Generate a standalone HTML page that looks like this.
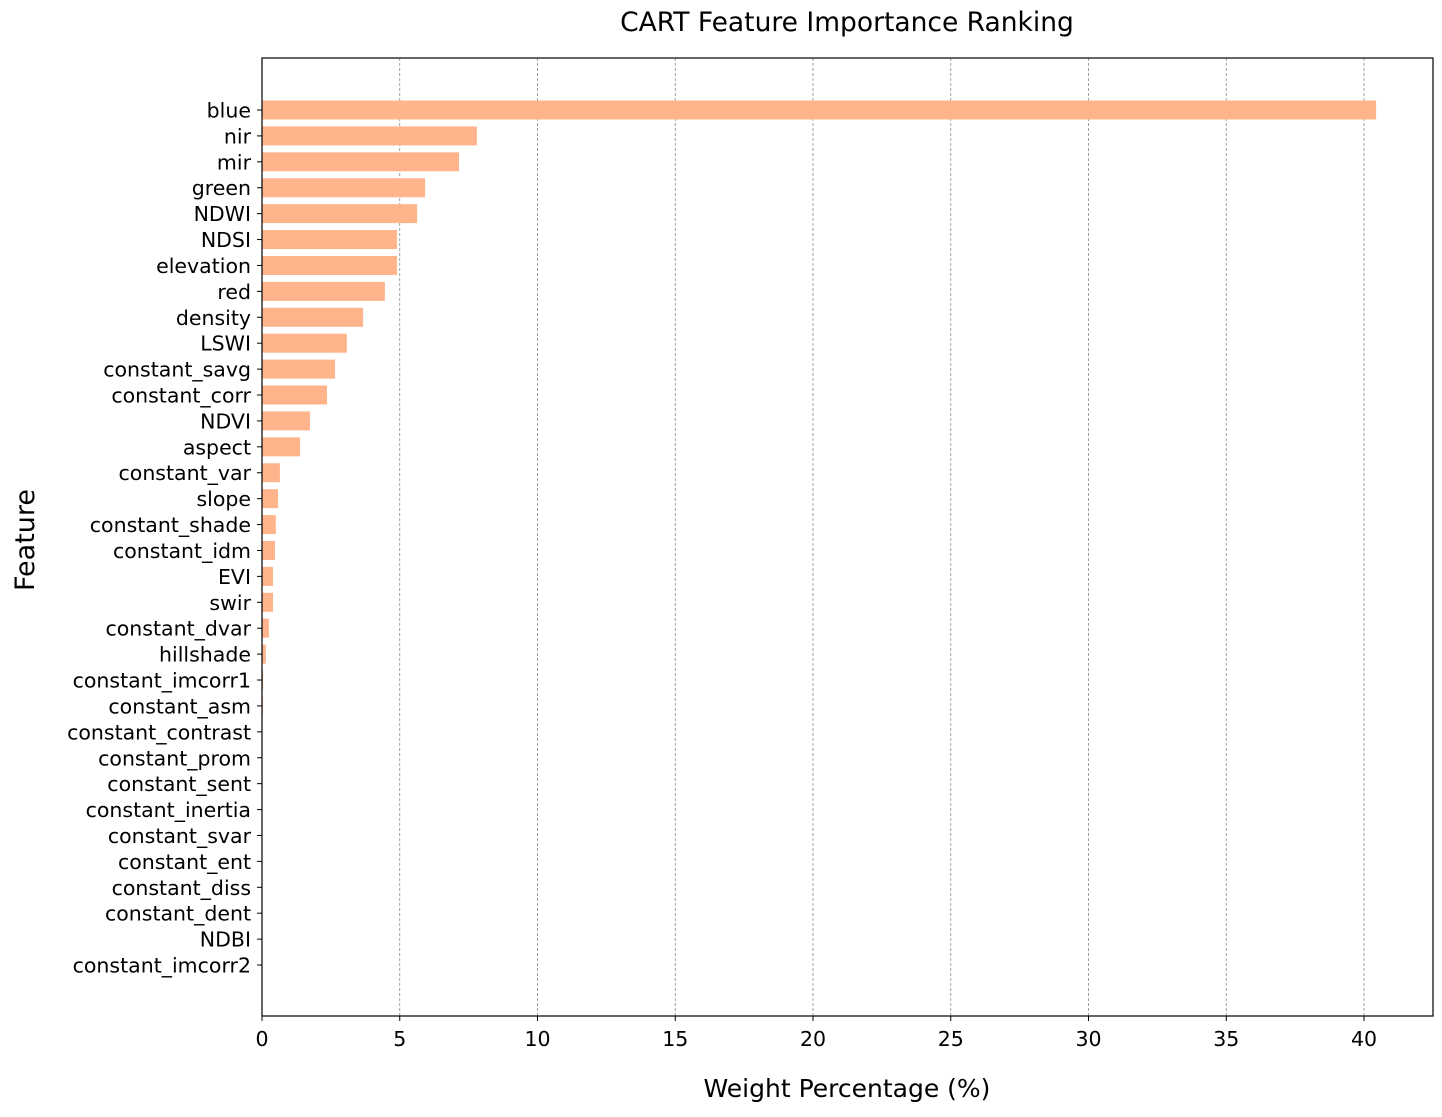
<!DOCTYPE html>
<html><head><meta charset="utf-8"><style>
body{margin:0;background:#fff;}
svg text{font-family:"DejaVu Sans","Liberation Sans",sans-serif;fill:#000;}
</style></head><body>
<svg id="chart" width="1442" height="1112" xmlns="http://www.w3.org/2000/svg">
<text x="847" y="31" font-size="26.5" text-anchor="middle">CART Feature Importance Ranking</text>
<text x="847" y="1097" font-size="25" text-anchor="middle">Weight Percentage (%)</text>
<text transform="translate(34,540) rotate(-90)" font-size="27" text-anchor="middle">Feature</text>
<g id="grid"></g><g id="bars"></g><g id="yticks"></g><g id="xticks"></g>
<rect x="262" y="58" width="1171" height="958" fill="none" stroke="#000" stroke-width="1.2"/>
</svg>
<script>
const features = ["blue","nir","mir","green","NDWI","NDSI","elevation","red","density","LSWI","constant_savg","constant_corr","NDVI","aspect","constant_var","slope","constant_shade","constant_idm","EVI","swir","constant_dvar","hillshade","constant_imcorr1","constant_asm","constant_contrast","constant_prom","constant_sent","constant_inertia","constant_svar","constant_ent","constant_diss","constant_dent","NDBI","constant_imcorr2"];
const weights = [40.44,7.8,7.15,5.92,5.63,4.9,4.9,4.46,3.67,3.08,2.65,2.36,1.74,1.38,0.65,0.58,0.5,0.47,0.4,0.4,0.25,0.14,0.04,0.03,0.01,0.01,0.01,0.01,0.01,0.01,0.01,0.01,0.01,0.01];
const xTicks = [0,5,10,15,20,25,30,35,40];
const NS="http://www.w3.org/2000/svg";
const x0=262, xScale=27.55;
const X=v=>x0+v*xScale;
const Y=i=>110+i*25.91;
function mk(t,a,p){const e=document.createElementNS(NS,t);for(const k in a)e.setAttribute(k,a[k]);p.appendChild(e);return e;}
const g=document.getElementById('grid'),b=document.getElementById('bars'),yt=document.getElementById('yticks'),xt=document.getElementById('xticks');
xTicks.forEach(v=>{
  if(v>0){const l=mk('line',{x1:X(v),x2:X(v),y1:58,y2:1016,stroke:'#888','stroke-width':0.8,'stroke-dasharray':'3,2'},g);
  
  }
  const t=mk('line',{x1:X(v),x2:X(v),y1:1016,y2:1021,stroke:'#000','stroke-width':1},xt);
  
  
  const tx=mk('text',{x:X(v),y:1046,'font-size':20.5,'text-anchor':'middle'},xt);tx.textContent=v;
  
  
});
features.forEach((f,i)=>{
  const r=mk('rect',{x:x0,y:Y(i)-9.5,width:Math.max(0,X(weights[i])-x0),height:19,fill:'#ffb48c'},b);
  
  
  const t=mk('line',{x1:257,x2:262,y1:Y(i),y2:Y(i),stroke:'#000','stroke-width':1},yt);
  
  
  const tx=mk('text',{x:251,y:Y(i)+7.5,'font-size':20.5,'text-anchor':'end'},yt);tx.textContent=f;
  
  
});
</script>
</body></html>
